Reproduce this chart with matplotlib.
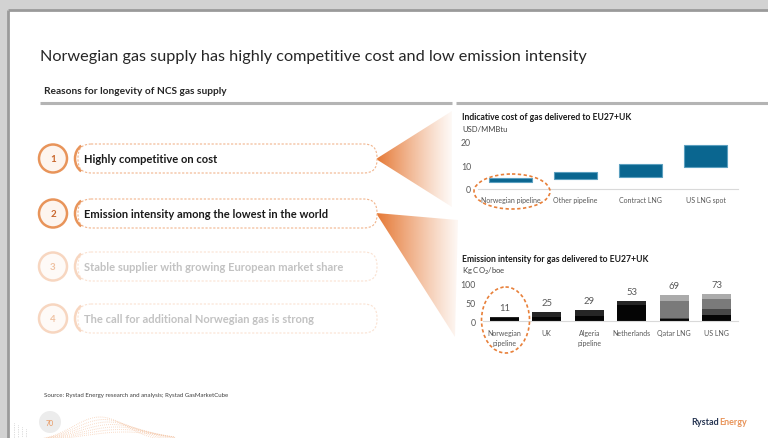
import numpy as np
import matplotlib
matplotlib.use("Agg")
import matplotlib.pyplot as plt
from matplotlib.patches import Rectangle, Circle, FancyBboxPatch, Arc, Polygon, Ellipse

# ---------------- data ----------------
title = "Norwegian gas supply has highly competitive cost and low emission intensity"
subtitle = "Reasons for longevity of NCS gas supply"
items = ["Highly competitive on cost",
         "Emission intensity among the lowest in the world",
         "Stable supplier with growing European market share",
         "The call for additional Norwegian gas is strong"]
item_active = [True, True, False, False]

cost_title = "Indicative cost of gas delivered to EU27+UK"
cost_unit = "USD/MMBtu"
cost_cats = ["Norwegian pipeline", "Other pipeline", "Contract LNG", "US LNG spot"]
cost_low = [3.0, 4.3, 5.3, 9.5]
cost_high = [4.8, 7.4, 10.6, 18.7]
cost_ticks = [0, 10, 20]

em_title = "Emission intensity for gas delivered to EU27+UK"
em_unit = "Kg CO$_2$/boe"
em_cats = ["Norwegian\npipeline", "UK", "Algeria\npipeline", "Netherlands", "Qatar LNG", "US LNG"]
em_seg1 = [9, 12, 14, 44, 5, 16]    # black
em_seg2 = [2, 13, 15, 9, 0, 0]      # very dark grey
em_seg3 = [0, 0, 0, 0, 2, 16]       # dark grey
em_seg4 = [0, 0, 0, 0, 46, 27]      # mid grey
em_seg5 = [0, 0, 0, 0, 16, 14]      # light grey
em_ticks = [0, 50, 100]

source = "Source: Rystad Energy research and analysis; Rystad GasMarketCube"
page = "70"

FONT = "Lato"
ORANGE = "#e8945a"

W, H = 768, 439
fig = plt.figure(figsize=(W / 100, H / 100), dpi=100)
fig.patch.set_facecolor("white")

bg = fig.add_axes([0, 0, 1, 1], zorder=0)
bg.set_xlim(0, W)
bg.set_ylim(H, 0)
bg.axis("off")

# slide frame / shadow
bg.add_patch(Rectangle((0, 0), W, 11, fc="#d2d2d2", ec="none"))
bg.add_patch(Rectangle((0, 0), 8, H, fc="#d2d2d2", ec="none"))
bg.plot([8, W], [10.5, 10.5], color="#9a9a9a", lw=2.0, solid_capstyle="butt")
bg.plot([7.5, 7.5], [10.5, H], color="#9a9a9a", lw=2.0, solid_capstyle="butt")

# titles
bg.text(40, 57, title, fontsize=11.7, family=FONT, color="#262626", va="center", ha="left")
bg.text(44, 91, subtitle, fontsize=7.3, family=FONT, weight="bold", color="#262626", va="center", ha="left")
bg.plot([40, 452], [104, 104], color="#b4b4b4", lw=2.2, solid_capstyle="butt")
bg.plot([456, W], [104, 104], color="#b4b4b4", lw=2.2, solid_capstyle="butt")


def fan(tip, p1, p2, xmax_len, power):
    poly = Polygon([tip, p1, p2], closed=True, fc="none", ec="none", transform=bg.transData)
    bg.add_patch(poly)
    xs_ = [tip[0], p1[0], p2[0]]
    ys_ = [tip[1], p1[1], p2[1]]
    x0, x1 = min(xs_), max(xs_)
    y0, y1 = min(ys_), max(ys_)
    nx, ny = 200, 200
    gx = np.linspace(x0, x1, nx)
    gy = np.linspace(y0, y1, ny)
    X, Y = np.meshgrid(gx, gy)
    a = np.clip(1 - (X - tip[0]) / xmax_len, 0, 1) ** power
    img = np.zeros((ny, nx, 4))
    img[..., 0] = 0.90
    img[..., 1] = 0.47
    img[..., 2] = 0.20
    img[..., 3] = a
    im = bg.imshow(img, extent=(x0, x1, y1, y0), origin="upper", aspect="auto",
                   interpolation="bilinear", zorder=1)
    im.set_clip_path(poly)


fan((376, 160), (452, 112), (452, 208), 82, 1.2)
fan((376, 214), (458, 221), (455, 338), 88, 1.1)
bg.set_xlim(0, W)
bg.set_ylim(H, 0)

# list items
item_y = [159.5, 214.5, 267.5, 319.5]
for i, (txt, yc, act) in enumerate(zip(items, item_y, item_active)):
    ec_c = ORANGE if act else "#f7d6c0"
    num_c = "#c8662c" if act else "#efc2a2"
    txt_c = "#1a1a1a" if act else "#c2c2c2"
    dash_c = "#f1b48c" if act else "#fae2d2"
    bg.add_patch(Circle((53, yc), 14, fc="#fdf5ef" if act else "#fefaf7", ec=ec_c, lw=1.8, zorder=3))
    bg.text(53, yc + 0.5, str(i + 1), fontsize=7, family=FONT, weight="bold", color=num_c,
            ha="center", va="center", zorder=4)
    bg.add_patch(FancyBboxPatch((78, yc - 14.5), 299, 29,
                                boxstyle="round,pad=0,rounding_size=13",
                                fc="white", ec=dash_c, lw=0.8, ls=(0, (2, 1.5)), zorder=2))
    bg.add_patch(Arc((88, yc), 26, 30, theta1=118, theta2=242, color=ec_c, lw=1.8, zorder=3))
    bg.text(84, yc + 0.5, txt, fontsize=8.0, family=FONT, weight="bold", color=txt_c,
            ha="left", va="center", zorder=4)

# footer
bg.text(44, 396, source, fontsize=4.4, family=FONT, color="#404040", ha="left", va="center")
xx = np.linspace(30, 175, 60)
for k in range(7):
    yy = 439 + 3 - (24 - 2.5 * k) * np.exp(-((xx - 100 - 4 * k) / (38 + 3 * k)) ** 2)
    bg.plot(xx, yy, ls=(0, (0.6, 1.4)), color="#f2b891", lw=0.7, alpha=0.8, zorder=1)
for k in range(4):
    bg.plot([14 + 4 * k, 14 + 4 * k], [424 + 2 * k, 439], ls=(0, (0.6, 1.2)), color="#c8c8c8", lw=0.7)
bg.add_patch(Circle((50, 423), 11, fc="#ececec", ec="none", zorder=3))
bg.text(50, 423.5, page, fontsize=5, family=FONT, color=ORANGE, ha="center", va="center", zorder=4)
bg.text(719, 423, "Rystad", fontsize=6.5, family=FONT, weight="bold", color="#283754", ha="right", va="center")
bg.text(719, 423, "Energy", fontsize=6.5, family=FONT, weight="bold", color=ORANGE, ha="left", va="center")

# chart titles
bg.text(462, 118, cost_title, fontsize=6.2, family=FONT, weight="bold", color="#1a1a1a", ha="left", va="center")
bg.text(462, 130, cost_unit, fontsize=5.5, family=FONT, color="#404040", ha="left", va="center")
bg.text(462, 260, em_title, fontsize=6.2, family=FONT, weight="bold", color="#1a1a1a", ha="left", va="center")
bg.text(462, 271, em_unit, fontsize=5.5, family=FONT, color="#404040", ha="left", va="center")


def fx(px):
    return px / W


def fy(py):
    return 1 - py / H


# ---------------- cost chart ----------------
ax1 = fig.add_axes([fx(478), fy(190), fx(738) - fx(478), fy(143) - fy(190)], zorder=2)
ax1.patch.set_alpha(0)
x1 = np.arange(len(cost_cats))
heights = [h - l for h, l in zip(cost_high, cost_low)]
ax1.bar(x1, heights, bottom=cost_low, width=0.66, color="#0a6690", edgecolor="#5b9fbf", lw=0.8)
ax1.set_xlim(-0.5, len(cost_cats) - 0.5)
ax1.set_ylim(0, 20)
ax1.set_yticks(cost_ticks)
ax1.set_xticks(x1)
ax1.set_xticklabels(cost_cats)
for s in ["top", "right", "left"]:
    ax1.spines[s].set_visible(False)
ax1.spines["bottom"].set_color("#d9d9d9")
ax1.tick_params(length=0, labelsize=6.3, labelcolor="#595959", pad=5)
ax1.tick_params(axis="x", labelsize=5, pad=5)
for lab in ax1.get_xticklabels() + ax1.get_yticklabels():
    lab.set_family(FONT)

# ---------------- emission chart ----------------
ax2 = fig.add_axes([fx(483), fy(322), fx(738) - fx(483), fy(285) - fy(322)], zorder=2)
ax2.patch.set_alpha(0)
x2 = np.arange(len(em_cats))
segs = [em_seg1, em_seg2, em_seg3, em_seg4, em_seg5]
seg_cols = ["#050505", "#262626", "#474747", "#7a7a7a", "#ababab"]
bottom = np.zeros(len(em_cats))
for seg, col in zip(segs, seg_cols):
    ax2.bar(x2, seg, bottom=bottom, width=0.68, color=col, lw=0)
    bottom += np.array(seg)
for xi, tot in zip(x2, bottom):
    ax2.text(xi, tot + 14, f"{int(tot)}", ha="center", va="bottom", fontsize=6.8,
             family=FONT, color="#595959")
ax2.set_xlim(-0.5, len(em_cats) - 0.5)
ax2.set_ylim(0, 100)
ax2.set_yticks(em_ticks)
ax2.set_xticks(x2)
ax2.set_xticklabels(em_cats, linespacing=1.5)
for s in ["top", "right", "left"]:
    ax2.spines[s].set_visible(False)
ax2.spines["bottom"].set_color("#d9d9d9")
ax2.tick_params(length=0, labelsize=6.3, labelcolor="#595959", pad=5)
ax2.tick_params(axis="x", labelsize=5, pad=6)
for lab in ax2.get_xticklabels() + ax2.get_yticklabels():
    lab.set_family(FONT)

# overlay ellipses
ov = fig.add_axes([0, 0, 1, 1], zorder=5)
ov.set_xlim(0, W)
ov.set_ylim(H, 0)
ov.axis("off")
ov.patch.set_alpha(0)
ov.add_patch(Ellipse((512, 192.5), 76, 35, fc="none", ec="#e8803a", lw=1.2, ls=(0, (2, 1.5))))
ov.add_patch(Ellipse((505.5, 321), 48, 66, fc="none", ec="#e8803a", lw=1.2, ls=(0, (2, 1.5))))

fig.savefig("out.png", dpi=100)
